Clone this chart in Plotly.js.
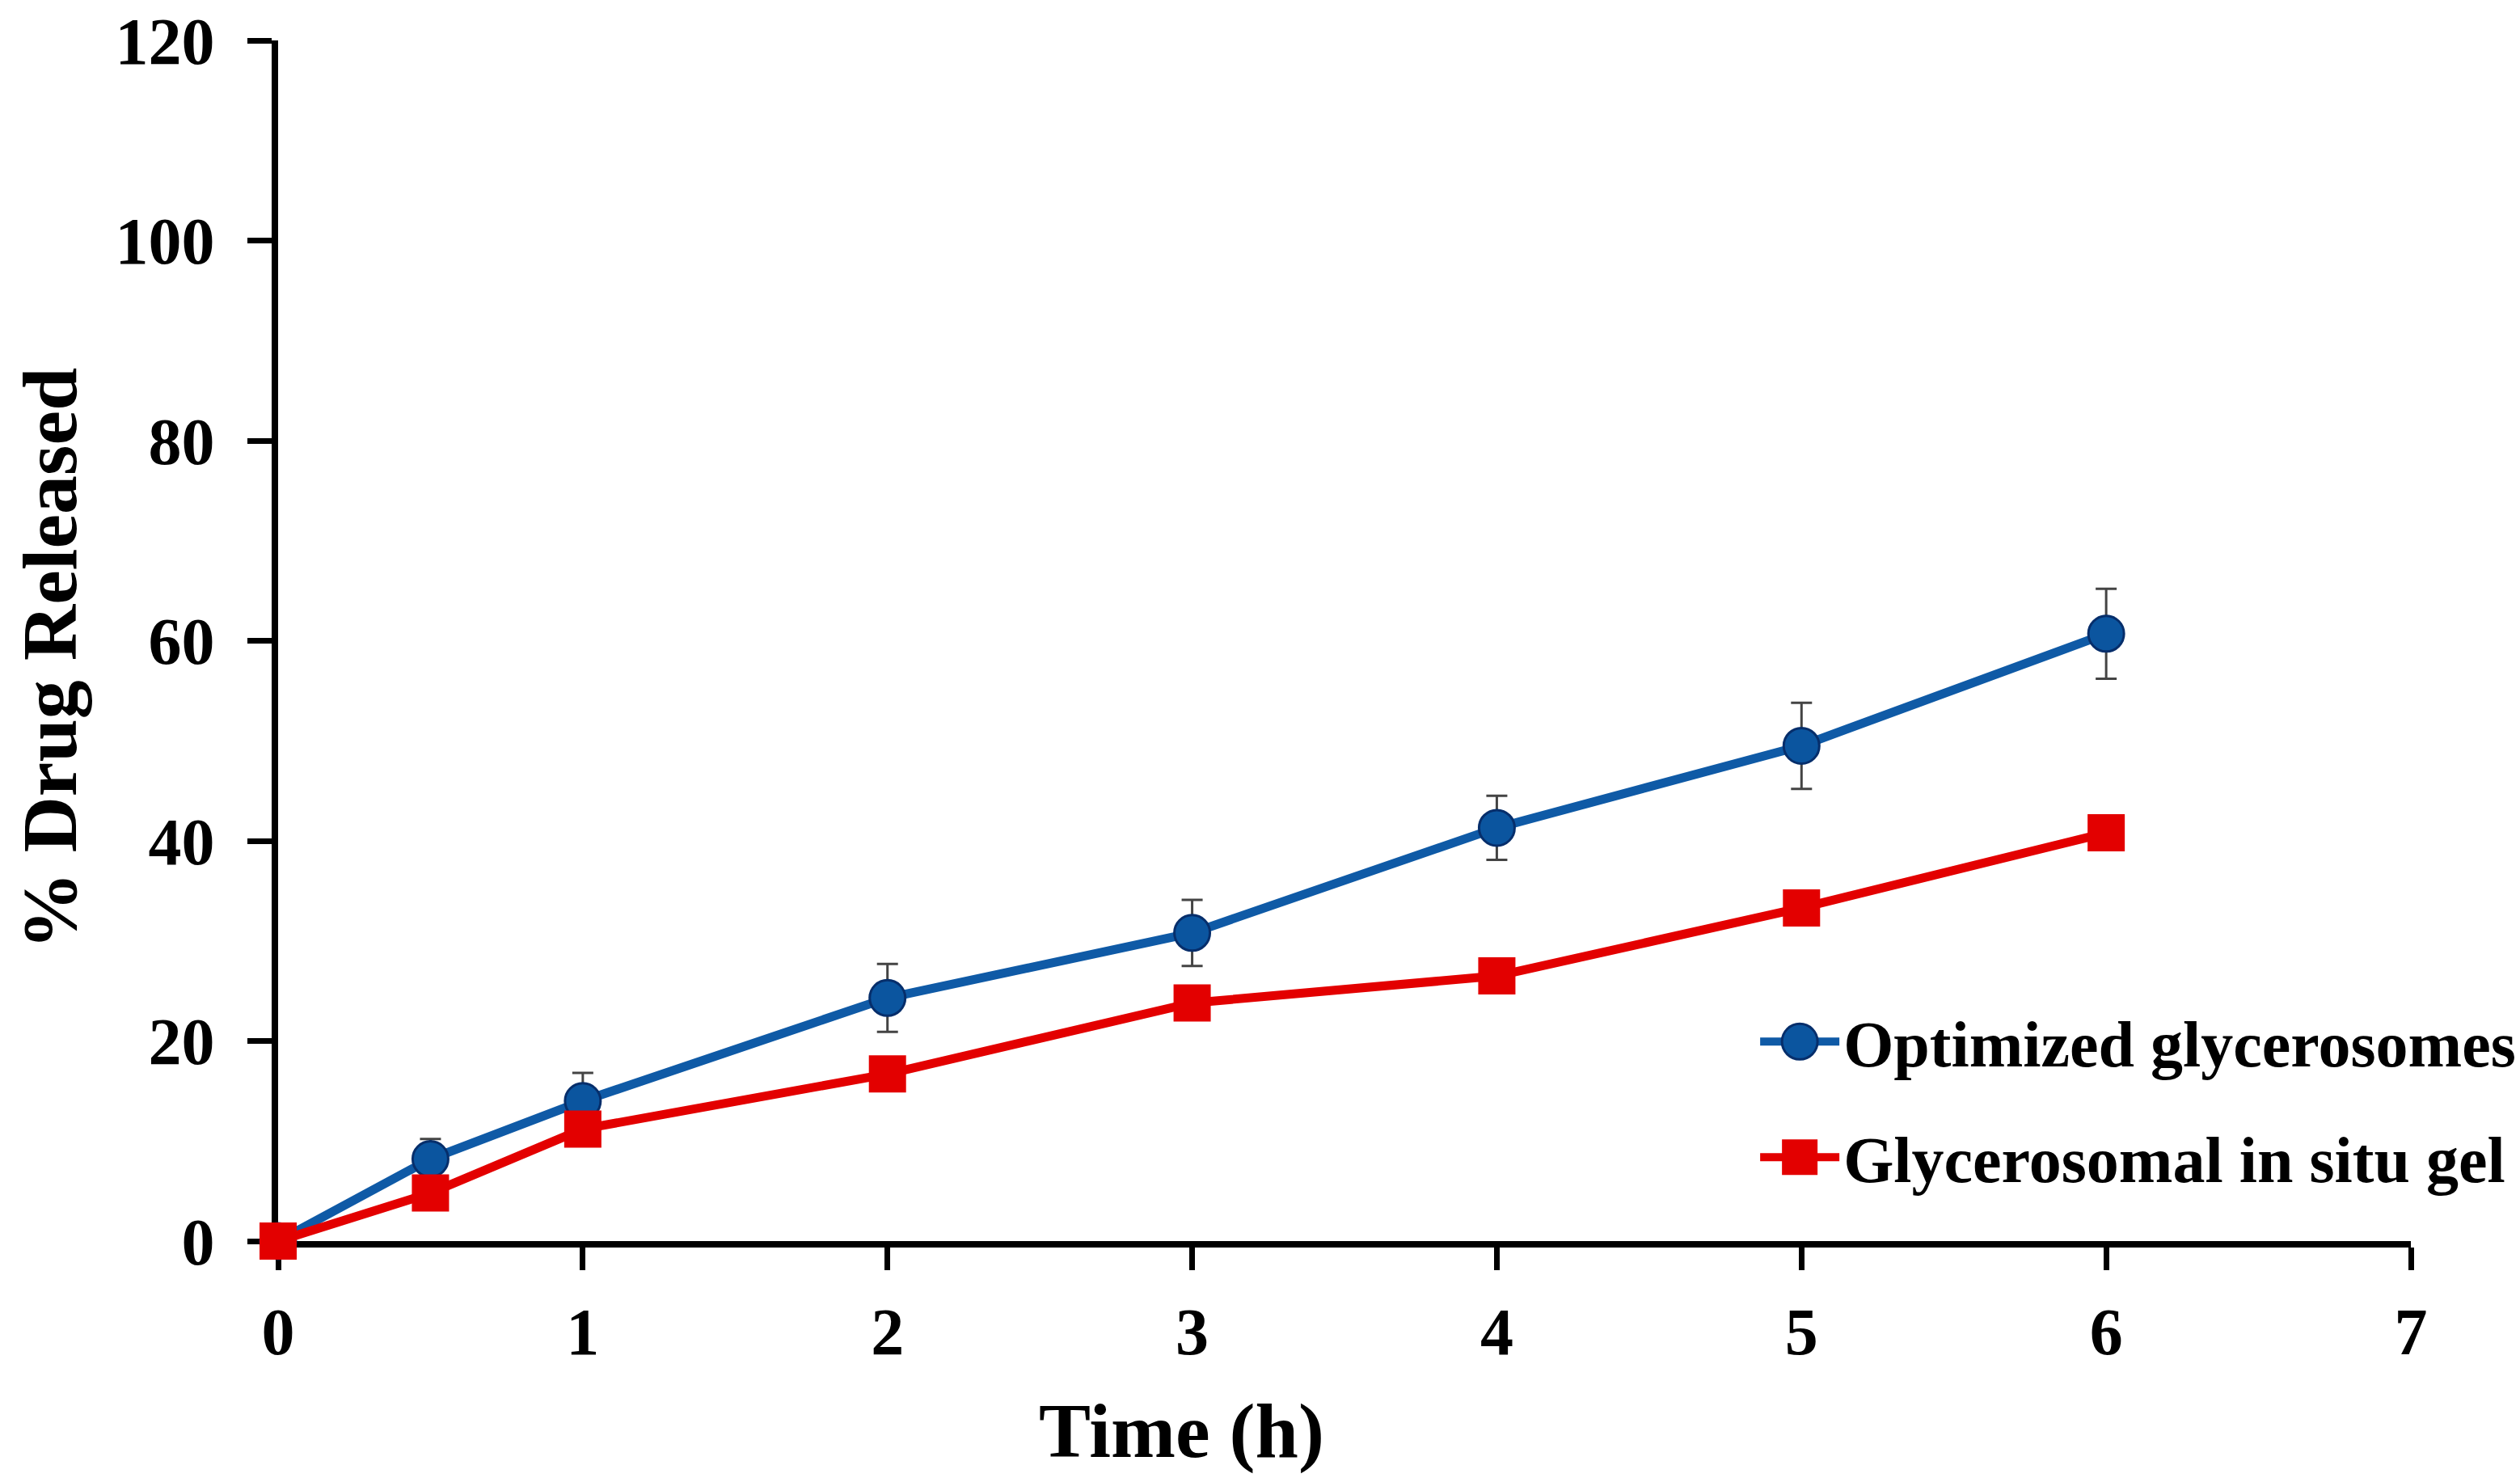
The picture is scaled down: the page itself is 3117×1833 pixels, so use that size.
<!DOCTYPE html>
<html>
<head>
<meta charset="utf-8">
<script src="https://cdn.plot.ly/plotly-3.0.1.min.js"></script>
<style>html,body{margin:0;padding:0;background:#fff;}#chart{width:3117px;height:1833px;}</style>
</head>
<body>
<div id="chart"></div>
<script>
const timeH = [0, 0.5, 1, 2, 3, 4, 5, 6];
const optimizedGlycerosomes = [0, 8.2, 14.0, 24.3, 30.8, 41.3, 49.5, 60.7];
const optimizedErr = [0, 2.0, 2.8, 3.4, 3.3, 3.2, 4.3, 4.5];
const insituGel = [0, 4.8, 11.2, 16.7, 23.8, 26.5, 33.3, 40.8];
const insituErr = [0, 0.8, 1.0, 1.0, 1.5, 1.0, 1.2, 1.0];
const seriesNames = ["Optimized glycerosomes", "Glycerosomal in situ gel"];
const xTicks = [0, 1, 2, 3, 4, 5, 6, 7];
const yTicks = [0, 20, 40, 60, 80, 100, 120];
const xTitle = "Time (h)";
const yTitle = "% Drug Released";

const FONT = "Liberation Serif, Times New Roman, serif";

const traces = [
  {
    x: timeH, y: optimizedGlycerosomes, name: seriesNames[0],
    type: "scatter", mode: "lines+markers", cliponaxis: false,
    line: {color: "#0F5AA6", width: 11},
    marker: {symbol: "circle", size: 44, color: "#0B559F", line: {color: "#062E6B", width: 3}},
    error_y: {type: "data", array: optimizedErr, visible: true, color: "#444444", thickness: 3, width: 13},
    legendgroup: "a"
  },
  {
    x: timeH, y: insituGel, name: seriesNames[1],
    type: "scatter", mode: "lines+markers", cliponaxis: false,
    line: {color: "#E30000", width: 11},
    marker: {symbol: "square", size: 46, color: "#E30000", line: {color: "#E30000", width: 0}},
    error_y: {type: "data", array: insituErr, visible: true, color: "#444444", thickness: 3, width: 13},
    legendgroup: "b"
  }
];

const layout = {
  width: 3117, height: 1833,
  paper_bgcolor: "#ffffff", plot_bgcolor: "#ffffff",
  margin: {l: 344, r: 135, t: 50, b: 298, autoexpand: false},
  font: {family: FONT, color: "#000000"},
  showlegend: true,
  legend: {
    x: 0.693, y: 0.118, xanchor: "left", yanchor: "middle",
    font: {family: FONT, size: 80, color: "#000", weight: "bold"},
    bgcolor: "rgba(0,0,0,0)", tracegroupgap: 36, traceorder: "grouped",
    itemwidth: 98
  },
  xaxis: {
    range: [0, 7], tickvals: xTicks, ticktext: xTicks.map(String),
    showgrid: false, zeroline: false, layer: "below traces",
    showline: true, linecolor: "#000", linewidth: 8,
    ticks: "outside", ticklen: 28, tickwidth: 7, tickcolor: "#000",
    ticklabelstandoff: 6,
    tickfont: {family: FONT, size: 82, color: "#000", weight: "bold"},
    fixedrange: true
  },
  yaxis: {
    range: [0, 120], tickvals: yTicks, ticktext: yTicks.map(String),
    showgrid: false, zeroline: false, layer: "below traces",
    showline: true, linecolor: "#000", linewidth: 8,
    ticks: "outside", ticklen: 30, tickwidth: 7, tickcolor: "#000",
    ticklabelstandoff: 24,
    tickfont: {family: FONT, size: 82, color: "#000", weight: "bold"},
    fixedrange: true
  },
  annotations: [
    {text: xTitle, xref: "paper", yref: "paper", x: 0.4235, y: -0.158, xanchor: "center", yanchor: "middle",
     showarrow: false, font: {family: FONT, size: 96, color: "#000", weight: "bold"}},
    {text: yTitle, xref: "paper", yref: "paper", x: -0.107, y: 0.485, xanchor: "center", yanchor: "middle",
     textangle: -90, showarrow: false, font: {family: FONT, size: 96, color: "#000", weight: "bold"}}
  ]
};

Plotly.newPlot("chart", traces, layout, {displayModeBar: false, staticPlot: true}).then(function () {
  document.querySelectorAll("#chart .legend .traces").forEach(function (g) {
    var ln = g.querySelector(".legendlines path");
    if (ln) ln.setAttribute("d", "M5,0h98");
    var pt = g.querySelector(".legendpoints path.scatterpts");
    if (pt) {
      pt.setAttribute("transform", "translate(54,0) scale(2.75)");
      var sw = parseFloat(pt.style.strokeWidth || "0");
      if (sw > 0) pt.style.strokeWidth = (sw / 2.75) + "px";
    }
  });
});
</script>
</body>
</html>
